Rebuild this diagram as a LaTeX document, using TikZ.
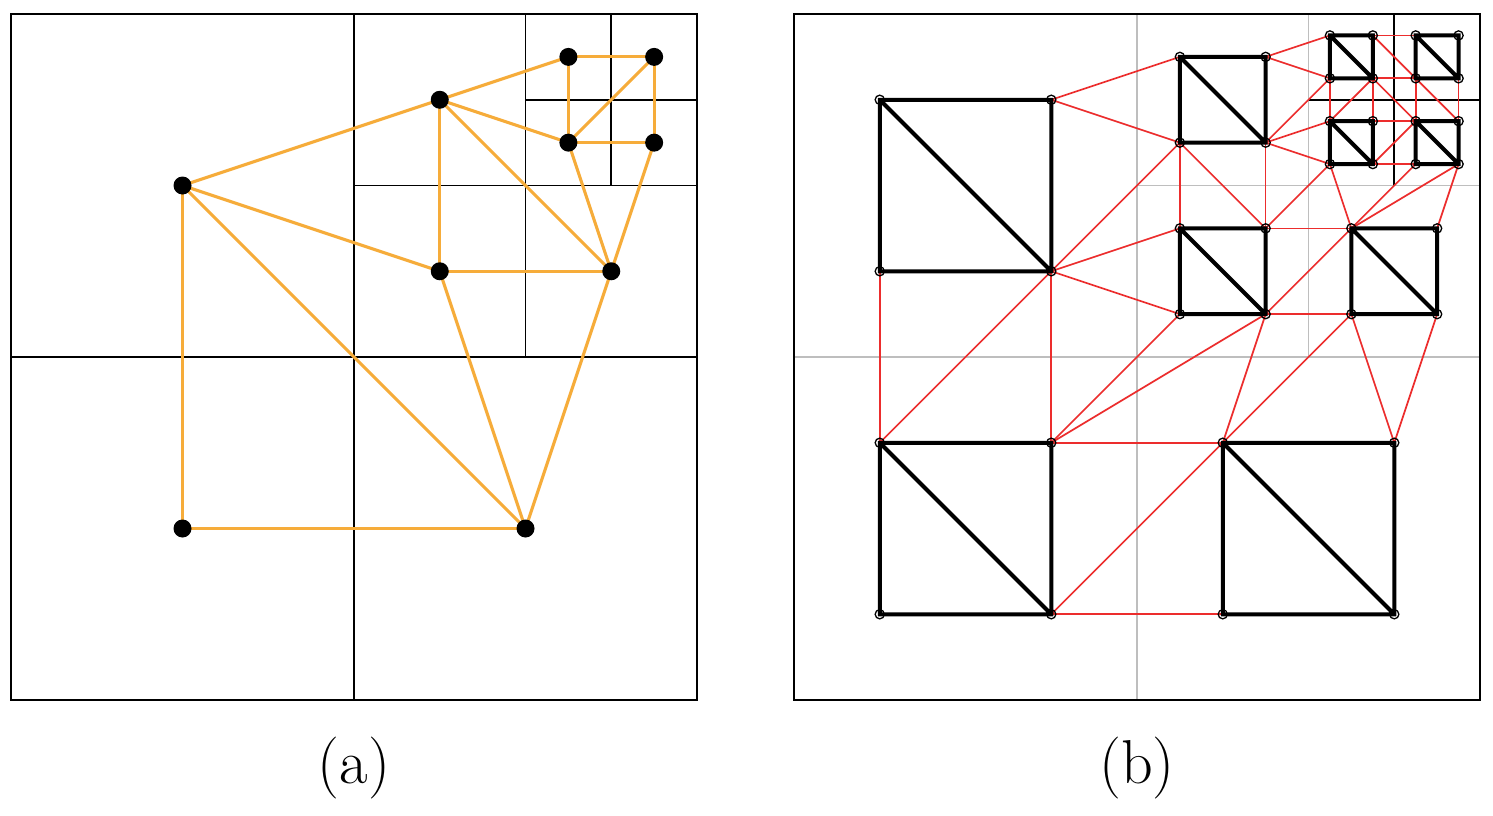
\documentclass[tikz,border=0pt]{standalone}
\definecolor{orng}{RGB}{246,172,58}
\definecolor{redl}{RGB}{236,45,45}
\definecolor{grayl}{RGB}{190,190,190}
\tikzset{
  qline/.style={line width=0.85pt,black},
  gline/.style={line width=0.85pt,grayl},
  oedge/.style={line width=1.55pt,orng},
  adot/.style={circle,fill=black,inner sep=0pt,minimum size=9pt},
  redge/.style={line width=0.85pt,redl},
  sq/.style={line width=2pt,black},
  vdot/.style={circle,draw=black,line width=0.65pt,inner sep=0pt,minimum size=4.6pt},
  lbl/.style={font=\fontsize{31}{31}\selectfont,inner sep=0pt}
}
\begin{document}
\begin{tikzpicture}[x=0.5pt,y=-0.5pt]
\useasboundingbox (0,0) rectangle (1493,815);
\fill[white] (0,0) rectangle (1493,815);

% ---------------- panel (a)
\begin{scope}[shift={(5.5pt,-350pt)},x=42.875pt,y=42.875pt]
\draw[qline] (0,0) rectangle (8,8);
\draw[qline] (4,0)--(4,8) (0,4)--(8,4) (6,4)--(6,8) (4,6)--(8,6) (7,6)--(7,8) (6,7)--(8,7);
\coordinate (p1) at (2,6);
\coordinate (p2) at (5,7);
\coordinate (p3) at (6.5,7.5);
\coordinate (p4) at (7.5,7.5);
\coordinate (p5) at (6.5,6.5);
\coordinate (p6) at (7.5,6.5);
\coordinate (p7) at (5,5);
\coordinate (p8) at (7,5);
\coordinate (p9) at (2,2);
\coordinate (p10) at (6,2);
\foreach \u/\v in {p1/p2,p2/p3,p3/p4,p4/p6,p3/p5,p5/p6,p5/p4,p2/p5,p2/p7,p2/p8,
  p1/p7,p1/p9,p1/p10,p7/p8,p7/p10,p8/p10,p5/p8,p6/p8,p9/p10}
  \draw[oedge] (\u) -- (\v);
\foreach \p in {p1,p2,p3,p4,p5,p6,p7,p8,p9,p10}
  \node[adot] (d\p) at (\p) {};
\node[lbl] (la) at (4,-0.79) {(a)};
\end{scope}

% ---------------- panel (b)
\begin{scope}[shift={(397pt,-350pt)},x=42.875pt,y=42.875pt]
\draw[gline] (4,0)--(4,8) (0,4)--(8,4) (6,4)--(6,8) (4,6)--(8,6);
\draw[qline] (7,6)--(7,8) (6,7)--(8,7);
\draw[qline] (0,0) rectangle (8,8);
% large squares
\coordinate (L1TL) at (1,7); \coordinate (L1TR) at (3,7); \coordinate (L1BL) at (1,5); \coordinate (L1BR) at (3,5);
\coordinate (L2TL) at (1,3); \coordinate (L2TR) at (3,3); \coordinate (L2BL) at (1,1); \coordinate (L2BR) at (3,1);
\coordinate (L3TL) at (5,3); \coordinate (L3TR) at (7,3); \coordinate (L3BL) at (5,1); \coordinate (L3BR) at (7,1);
% medium squares
\coordinate (m1TL) at (4.5,7.5); \coordinate (m1TR) at (5.5,7.5); \coordinate (m1BL) at (4.5,6.5); \coordinate (m1BR) at (5.5,6.5);
\coordinate (m2TL) at (4.5,5.5); \coordinate (m2TR) at (5.5,5.5); \coordinate (m2BL) at (4.5,4.5); \coordinate (m2BR) at (5.5,4.5);
\coordinate (m3TL) at (6.5,5.5); \coordinate (m3TR) at (7.5,5.5); \coordinate (m3BL) at (6.5,4.5); \coordinate (m3BR) at (7.5,4.5);
% small squares
\coordinate (a1) at (6.25,7.75); \coordinate (a2) at (6.75,7.75); \coordinate (a3) at (6.25,7.25); \coordinate (a4) at (6.75,7.25);
\coordinate (b1) at (7.25,7.75); \coordinate (b2) at (7.75,7.75); \coordinate (b3) at (7.25,7.25); \coordinate (b4) at (7.75,7.25);
\coordinate (c1) at (6.25,6.75); \coordinate (c2) at (6.75,6.75); \coordinate (c3) at (6.25,6.25); \coordinate (c4) at (6.75,6.25);
\coordinate (d1) at (7.25,6.75); \coordinate (d2) at (7.75,6.75); \coordinate (d3) at (7.25,6.25); \coordinate (d4) at (7.75,6.25);
% red edges
\foreach \u/\v in {L1TR/m1TL,L1TR/m1BL,L1BR/m1BL,L1BR/m2TL,L1BR/m2BL,L1BR/L2TR,L1BR/L2TL,L1BL/L2TL,
  L2TR/m2BL,L2TR/m2BR,L2TR/L3TL,L2BR/L3TL,L2BR/L3BL,
  m2BR/L3TL,m3BL/L3TL,m3BL/L3TR,m3BR/L3TR,
  m1BL/m2TL,m1BL/m2TR,m1BR/m2TR,
  m2TR/m3TL,m2BR/m3TL,m2BR/m3BL,
  m1TR/a1,m1TR/a3,m1BR/a3,m1BR/c1,m1BR/c3,
  c3/m2TR,c3/m3TL,m3TL/d3,m3TL/d4,m3TR/d4,
  a2/b1,a2/b3,b3/d2,a4/b3,a4/d1,a4/c2,c2/d1,b3/d1,b4/d2,a4/c1,a3/c1,d1/c4,c4/d3}
  \draw[redge] (\u) -- (\v);
% black squares with diagonals
\foreach \s in {L1,L2,L3,m1,m2,m3}
  \draw[sq] (\s TL) -- (\s TR) -- (\s BR) -- (\s BL) -- cycle (\s TL) -- (\s BR);
\foreach \s in {a,b,c,d}
  \draw[sq] (\s1) -- (\s2) -- (\s4) -- (\s3) -- cycle (\s1) -- (\s4);
% vertex circles
\foreach \s in {L1,L2,L3,m1,m2,m3}
  \foreach \c in {TL,TR,BL,BR}
    \node[vdot] (v\s\c) at (\s\c) {};
\foreach \s in {a,b,c,d}
  \foreach \c in {1,2,3,4}
    \node[vdot] (v\s\c) at (\s\c) {};
\node[lbl] (lb) at (4,-0.79) {(b)};
\end{scope}
\end{tikzpicture}
\end{document}
